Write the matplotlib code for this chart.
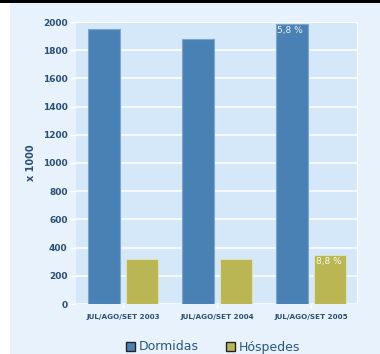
import matplotlib.pyplot as plt
from matplotlib.patches import Rectangle
import numpy as np

# Values in thousands
periodos = ["JUL/AGO/SET 2003", "JUL/AGO/SET 2004", "JUL/AGO/SET 2005"]
dormidas = [1952, 1877, 1983]
hospedes = [319, 321, 347]
var_dormidas = [None, None, "5,8 %"]
var_hospedes = [None, None, "8,8 %"]
y_ticks = [0, 200, 400, 600, 800, 1000, 1200, 1400, 1600, 1800, 2000]

W, H = 380, 354
fig = plt.figure(figsize=(W / 100, H / 100), dpi=100)
fig.patch.set_facecolor("white")

# Panel background and top strip
fig.add_artist(Rectangle((10 / W, 0), 1, 1, transform=fig.transFigure,
                         facecolor="#E8F2FC", edgecolor="none", zorder=-2))
fig.add_artist(Rectangle((0, 1 - 3 / H), 1, 3 / H, transform=fig.transFigure,
                         facecolor="black", edgecolor="none", zorder=-1))

ax = fig.add_axes([76 / W, 1 - 304 / H, 282 / W, 282 / H])
ax.set_facecolor("#D5E8F9")

x = np.arange(len(periodos))
w = 0.34
off = 0.207
c_dorm = "#4A81B4"
c_hosp = "#BAB653"
b1 = ax.bar(x - off, dormidas, w, color=c_dorm, edgecolor="#7AA6D0",
            linewidth=0.8, zorder=3, label="Dormidas")
b2 = ax.bar(x + off, hospedes, w, color=c_hosp, edgecolor="#DDE3B8",
            linewidth=0.8, zorder=3, label="Hóspedes")

for bars, vals, labs in ((b1, dormidas, var_dormidas), (b2, hospedes, var_hospedes)):
    for rect, v, lab in zip(bars, vals, labs):
        if lab:
            ax.text(rect.get_x() + 0.02, v - 12, lab, ha="left", va="top",
                    color="white", fontsize=6.5, zorder=4, alpha=0.9)

ax.set_xlim(-0.5, 2.5)
ax.set_ylim(0, 2000)
ax.set_yticks(y_ticks)
ax.set_yticklabels([str(t) for t in y_ticks], fontsize=6.5,
                   fontweight="bold", color="#2A4F78")
ax.set_xticks(x)
ax.set_xticklabels(periodos, fontsize=5.2, fontweight="bold", color="#2A4F78")
ax.tick_params(axis="y", length=4, color="white", width=1, pad=2)
ax.tick_params(axis="x", length=3, color="white", width=1, pad=4)
ax.grid(axis="y", color="white", linewidth=1.1, zorder=1)
for s in ax.spines.values():
    s.set_visible(False)
ax.axhline(2000, color="white", linewidth=1.5, zorder=2)
ax.axvline(2.5, color="white", linewidth=1.5, zorder=2)

ax.set_ylabel("x 1000", fontsize=7, fontweight="bold", color="#2A4F78",
              labelpad=5)

leg = fig.legend(handles=[b1, b2], loc="center", bbox_to_anchor=(213 / W, 1 - 347 / H),
                 ncol=2, frameon=False, fontsize=9, handlelength=0.7,
                 handleheight=0.7, handletextpad=0.3, columnspacing=2.2,
                 labelcolor="#2A5585")
for h in leg.legend_handles:
    h.set_edgecolor("#222222")
    h.set_linewidth(1.0)

plt.savefig("out.png", dpi=100, facecolor=fig.get_facecolor())
plt.close()
